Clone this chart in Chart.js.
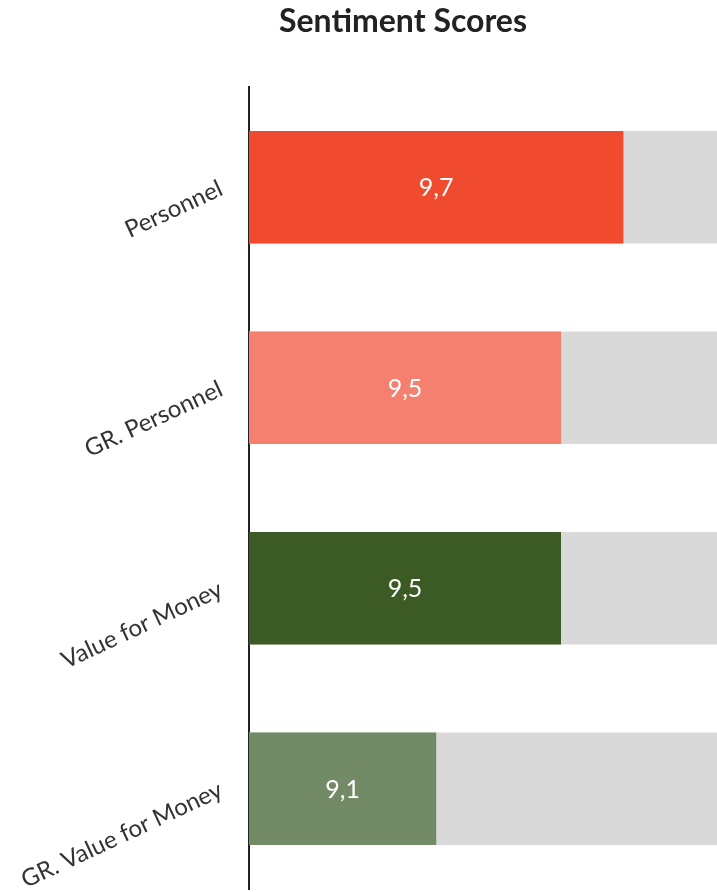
<!DOCTYPE html>
<html>
<head>
<meta charset="utf-8">
<script src="https://cdn.jsdelivr.net/npm/chart.js@4"></script>
<style>
  html, body { margin: 0; padding: 0; background: #fff; }
  #wrap { width: 717px; height: 892px; }
</style>
</head>
<body>
<div id="wrap"><canvas id="sentimentChart"></canvas></div>
<script>
// Sentiment scores per category
const categories = ["Personnel", "GR. Personnel", "Value for Money", "GR. Value for Money"];
const scores = [9.7, 9.5, 9.5, 9.1];
const scaleMax = [10, 10, 10, 10]; // grey track behind each bar
const barColors = ["#F04B2F", "#F58070", "#3B5A24", "#738A66"];

const fontFamily = "Lato, 'Open Sans', sans-serif";

// white value labels inside the coloured bars + the title
const overlayText = {
  id: "overlayText",
  afterDraw(chart) {
    const c = chart.ctx;
    const meta = chart.getDatasetMeta(0);
    const left = chart.chartArea.left; // bars are clipped here (axis starts at 8.5)
    c.save();
    c.fillStyle = "#ffffff";
    c.font = "25px " + fontFamily;
    c.textAlign = "center";
    c.textBaseline = "middle";
    meta.data.forEach((bar, i) => {
      const p = bar.getProps(["x", "y", "base"], true);
      const start = Math.max(p.base, left);
      c.fillText(scores[i].toFixed(1).replace(".", ","), (p.x + start) / 2, p.y + 1);
    });

    // title, a bit right of centre like the original
    c.fillStyle = "#222222";
    c.font = "bold 32px " + fontFamily;
    c.fillText("Sentiment Scores", 403, 22);
    c.restore();
  },
};

const ctx = document.getElementById("sentimentChart").getContext("2d");
new Chart(ctx, {
  type: "bar",
  data: {
    labels: categories,
    datasets: [
      {
        label: "Score",
        data: scores,
        backgroundColor: barColors,
        grouped: false,
        order: 1,
        categoryPercentage: 1,
        barPercentage: 0.56,
      },
      {
        label: "Max",
        data: scaleMax,
        backgroundColor: "#D9D9D9",
        grouped: false,
        order: 2,
        categoryPercentage: 1,
        barPercentage: 0.56,
      },
    ],
  },
  options: {
    indexAxis: "y",
    responsive: true,
    maintainAspectRatio: false,
    animation: false,
    layout: { padding: { top: 87, bottom: 3, left: 0, right: 0 } },
    plugins: {
      legend: { display: false },
      title: { display: false },
      tooltip: { enabled: false },
    },
    scales: {
      x: {
        display: false,
        min: 8.5,
        max: 10,
      },
      y: {
        grid: { display: false, drawTicks: false },
        border: { display: true, color: "#222222", width: 2 },
        ticks: {
          color: "#333333",
          font: { family: fontFamily, size: 24 },
          minRotation: 25,
          maxRotation: 25,
          padding: 28,
        },
        afterFit: (scale) => {
          scale.width = 249;
          scale.paddingTop = 0;
          scale.paddingBottom = 0;
        },
      },
    },
  },
  plugins: [overlayText],
});
</script>
</body>
</html>
